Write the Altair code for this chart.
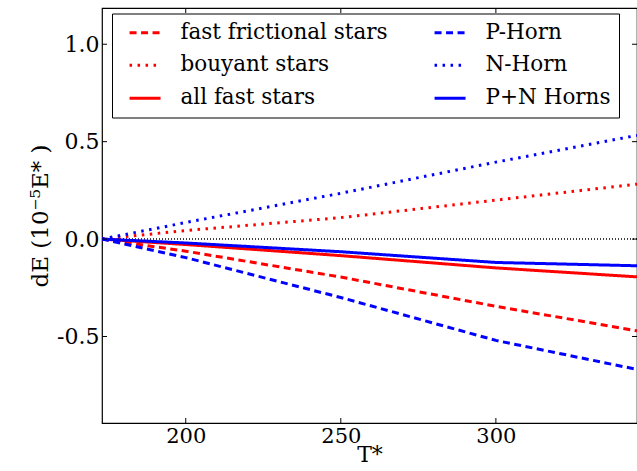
import altair as alt
import pandas as pd

# Energy change of each population against time T*
t_vals = [173, 200, 250, 300, 345.5]
fast_frictional = [0.0, -0.062, -0.195, -0.345, -0.471]
bouyant = [0.0, 0.044, 0.110, 0.200, 0.282]
all_fast = [0.0, -0.028, -0.085, -0.148, -0.194]
p_horn = [0.0, -0.095, -0.300, -0.520, -0.669]
n_horn = [0.0, 0.085, 0.235, 0.395, 0.532]
pn_horns = [0.0, -0.020, -0.065, -0.120, -0.137]

# legend fills column by column: red series first, blue series second
series_names = ["fast frictional stars", "bouyant stars", "all fast stars",
                "P-Horn", "N-Horn", "P+N Horns"]
series_values = [fast_frictional, bouyant, all_fast, p_horn, n_horn, pn_horns]
series_colors = ["#ff0000", "#ff0000", "#ff0000", "#0000ff", "#0000ff", "#0000ff"]
series_dashes = [[7, 4.5], [2.5, 5.5], [1, 0], [7, 4.5], [2.5, 5.5], [1, 0]]

x_ticks = [200, 250, 300]
y_ticks = [-0.5, 0.0, 0.5, 1.0]

rows = []
for name, vals in zip(series_names, series_values):
    for t, v in zip(t_vals, vals):
        rows.append({"series": name, "T": t, "dE": v})
df = pd.DataFrame(rows)

W, H = 535, 415
FONT = "DejaVu Serif"

x_scale = alt.Scale(domain=[173, 345.5], nice=False, zero=False)
y_scale = alt.Scale(domain=[-0.944, 1.186], nice=False, zero=False)

# a long horizontal stroke drawn in a small symbol slot keeps rows compact
legend = alt.Legend(title=None, orient="none", legendX=10, legendY=5.5,
                    columns=2, symbolType="M-0.133,0H3.311", symbolSize=324,
                    symbolStrokeWidth=3, labelFont=FONT, labelFontSize=21.5,
                    labelColor="black", labelLimit=400, labelOffset=39,
                    rowPadding=10, columnPadding=37, padding=8,
                    strokeColor="black", fillColor="white", cornerRadius=0)

lines = alt.Chart(df).mark_line(strokeWidth=3, strokeCap="butt", clip=True).encode(
    x=alt.X("T:Q", scale=x_scale,
            axis=alt.Axis(title="T*", values=x_ticks, grid=False, domain=False,
                          ticks=False, labelFont=FONT, labelFontSize=21,
                          labelColor="black", labelPadding=2, titleFont=FONT,
                          titleFontSize=22, titleFontWeight="normal",
                          titleColor="black", titlePadding=-2)),
    y=alt.Y("dE:Q", scale=y_scale,
            axis=alt.Axis(title="dE (10⁻⁵E* )", values=y_ticks, grid=False,
                          domain=False, ticks=False, labelFont=FONT,
                          labelFontSize=22, labelColor="black", labelPadding=3,
                          labelExpr="datum.value < 0 ? '-' + format(-datum.value, '.1f') : format(datum.value, '.1f')",
                          titleFont=FONT, titleFontSize=23,
                          titleFontWeight="normal", titleColor="black",
                          titlePadding=4)),
    color=alt.Color("series:N", sort=series_names,
                    scale=alt.Scale(domain=series_names, range=series_colors),
                    legend=legend),
    strokeDash=alt.StrokeDash("series:N", sort=series_names,
                              scale=alt.Scale(domain=series_names,
                                              range=series_dashes),
                              legend=legend),
    order=alt.Order("T:Q"),
)

zero_line = alt.Chart(pd.DataFrame({"v": [0.0]})).mark_rule(
    color="black", strokeWidth=1.5, strokeDash=[1, 2]
).encode(y=alt.Y("v:Q", scale=y_scale))

# inward ticks on all four sides
xt = pd.DataFrame({"t": x_ticks})
yt = pd.DataFrame({"v": y_ticks})
tick_style = dict(color="black", strokeWidth=1)
bottom_ticks = alt.Chart(xt).mark_rule(**tick_style).encode(
    x=alt.X("t:Q", scale=x_scale), y=alt.value(H - 5), y2=alt.value(H))
top_ticks = alt.Chart(xt).mark_rule(**tick_style).encode(
    x=alt.X("t:Q", scale=x_scale), y=alt.value(0), y2=alt.value(5))
left_ticks = alt.Chart(yt).mark_rule(**tick_style).encode(
    y=alt.Y("v:Q", scale=y_scale), x=alt.value(0), x2=alt.value(5))
right_ticks = alt.Chart(yt).mark_rule(**tick_style).encode(
    y=alt.Y("v:Q", scale=y_scale), x=alt.value(W - 5), x2=alt.value(W))

chart = alt.layer(zero_line, lines, bottom_ticks, top_ticks, left_ticks,
                  right_ticks).properties(
    width=W, height=H,
    autosize=alt.AutoSizeParams(type="none"),
    padding={"left": 102, "top": 8, "right": 0, "bottom": 48},
    background="white",
).configure_view(stroke="black", strokeWidth=1.2)

chart.save("out.html", embed_options={"renderer": "svg", "actions": False})
